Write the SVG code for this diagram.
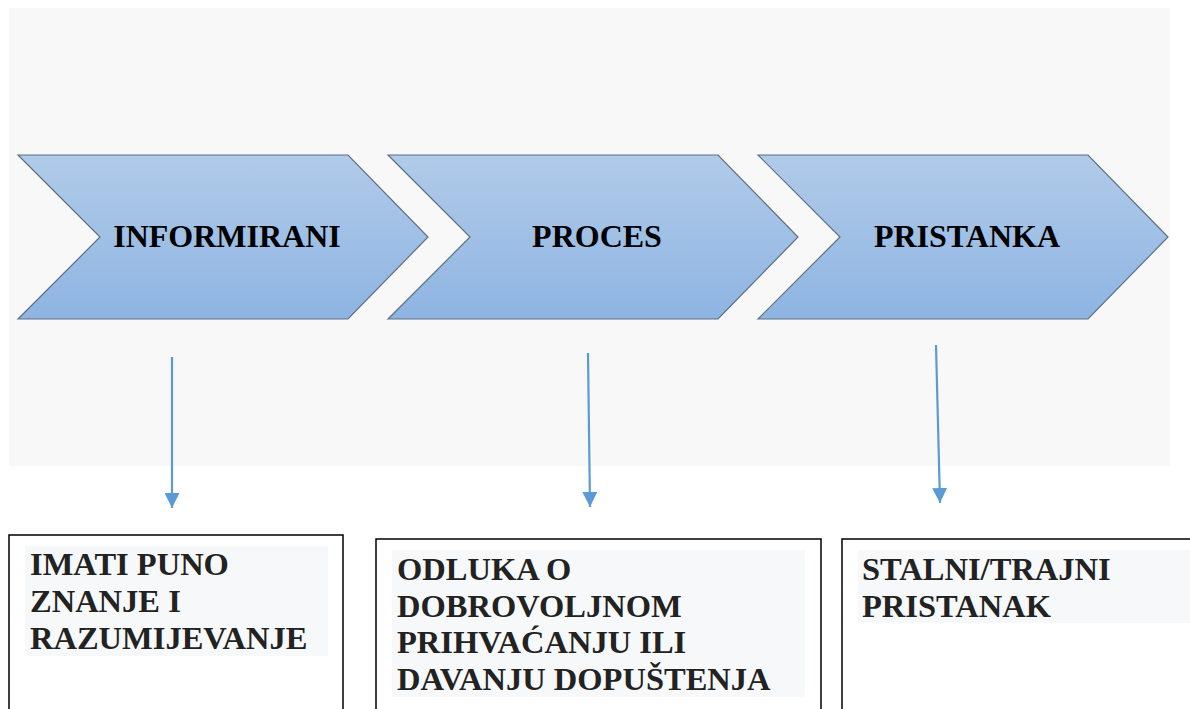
<svg xmlns="http://www.w3.org/2000/svg" width="1190" height="709" viewBox="0 0 1190 709">
<defs>
<linearGradient id="g" x1="0" y1="0" x2="0" y2="1">
<stop offset="0" stop-color="#b1cbe9"/>
<stop offset="1" stop-color="#8eb4e2"/>
</linearGradient>
<marker id="ah" viewBox="0 0 10 10" refX="10" refY="5" markerWidth="15" markerHeight="15" markerUnits="userSpaceOnUse" orient="auto">
<path d="M0,0 L10,5 L0,10 z" fill="#5b9bd5"/>
</marker>
<style>
.chev{fill:url(#g);stroke:#5e6f80;stroke-width:1.2}
.ct{font-family:"Liberation Serif",serif;font-weight:bold;font-size:32px;fill:#000;text-anchor:middle}
.box{fill:#fff;stroke:#000;stroke-width:1.5}
.hl{fill:#f7f8fa}
.bt{font-family:"Liberation Serif",serif;font-weight:bold;font-size:32.5px;fill:#222}
.con{stroke:#5b9bd5;stroke-width:2.2;fill:none}
</style>
</defs>
<rect x="9" y="8" width="1161" height="458" fill="#f8f8f8"/>
<g id="chev1">
<path class="chev" d="M18,155 L348,155 L428,237 L348,319 L18,319 L100,237 Z"/>
<text class="ct" x="227" y="247">INFORMIRANI</text>
</g>
<g id="chev2">
<path class="chev" d="M388,155 L718,155 L798,237 L718,319 L388,319 L470,237 Z"/>
<text class="ct" x="597" y="247">PROCES</text>
</g>
<g id="chev3">
<path class="chev" d="M758,155 L1088,155 L1168,237 L1088,319 L758,319 L840,237 Z"/>
<text class="ct" x="967" y="247">PRISTANKA</text>
</g>
<g id="connectors">
<line class="con" x1="172" y1="357" x2="172" y2="508" marker-end="url(#ah)"/>
<line class="con" x1="588" y1="353" x2="590" y2="507" marker-end="url(#ah)"/>
<line class="con" x1="936" y1="345" x2="940" y2="503" marker-end="url(#ah)"/>
</g>
<g id="box1">
<rect class="box" x="9" y="535" width="334" height="190"/>
<rect class="hl" x="25" y="546" width="303" height="110"/>
<text class="bt" x="30" y="575">IMATI PUNO</text>
<text class="bt" x="30" y="612">ZNANJE I</text>
<text class="bt" x="30" y="649">RAZUMIJEVANJE</text>
</g>
<g id="box2">
<rect class="box" x="376" y="539" width="445" height="190"/>
<rect class="hl" x="392" y="550" width="413" height="147"/>
<text class="bt" x="397" y="580">ODLUKA O</text>
<text class="bt" x="397" y="617">DOBROVOLJNOM</text>
<text class="bt" x="397" y="653">PRIHVAĆANJU ILI</text>
<text class="bt" x="397" y="690">DAVANJU DOPUŠTENJA</text>
</g>
<g id="box3">
<rect class="box" x="842" y="539" width="360" height="190"/>
<rect class="hl" x="858" y="550" width="340" height="73"/>
<text class="bt" x="862" y="580">STALNI/TRAJNI</text>
<text class="bt" x="862" y="617">PRISTANAK</text>
</g>
</svg>
